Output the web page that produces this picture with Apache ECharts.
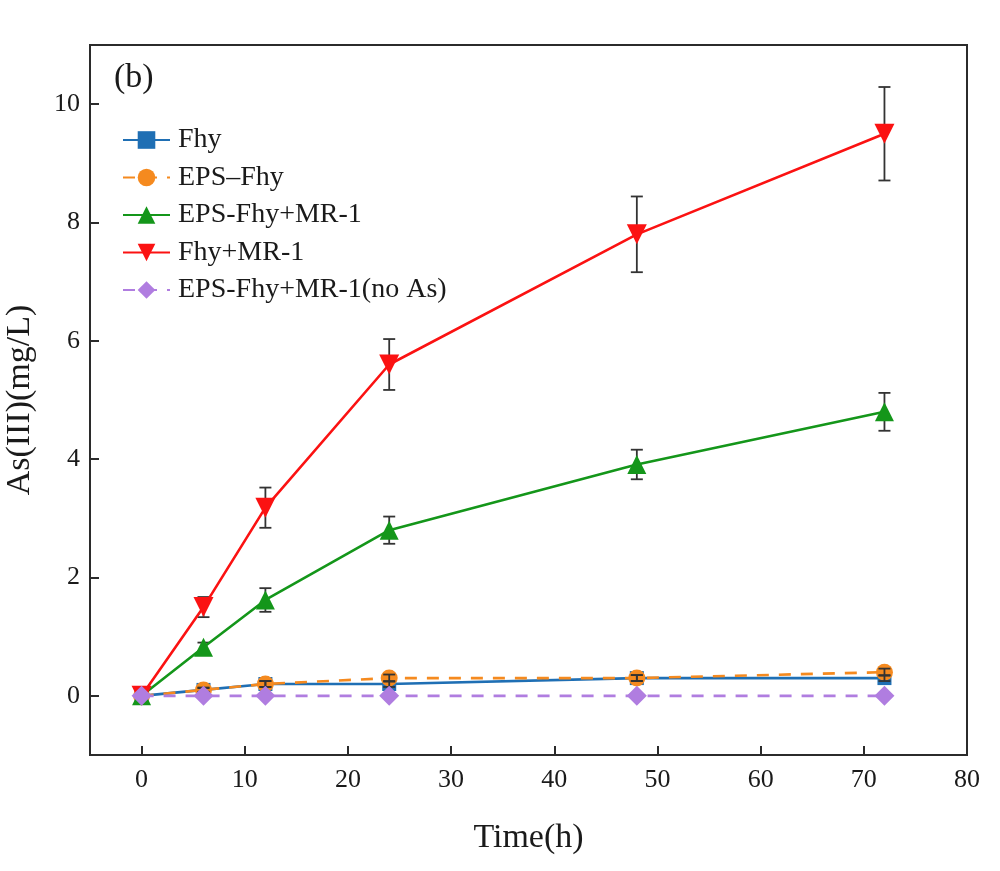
<!DOCTYPE html>
<html>
<head>
<meta charset="utf-8">
<script src="https://cdn.jsdelivr.net/npm/echarts@6/dist/echarts.min.js"></script>
<style>
  html, body { margin: 0; padding: 0; background: #fff; }
  #chart { width: 1000px; height: 871px; }
</style>
</head>
<body>
<div id="chart"></div>
<script>
// sampling times (h)
const times = [0, 6, 12, 24, 48, 72];

// As(III) values (mg/L) and their error bars
const fhy = [0, 0.1, 0.2, 0.2, 0.3, 0.3];
const fhyErr = [0, 0.03, 0.05, 0.05, 0.05, 0.05];
const epsFhy = [0, 0.1, 0.2, 0.3, 0.3, 0.4];
const epsFhyErr = [0, 0.04, 0.05, 0.06, 0.05, 0.06];
const epsFhyMr1 = [0, 0.82, 1.62, 2.8, 3.91, 4.8];
const epsFhyMr1Err = [0, 0.08, 0.2, 0.23, 0.25, 0.32];
const fhyMr1 = [0, 1.5, 3.18, 5.6, 7.8, 9.5];
const fhyMr1Err = [0, 0.17, 0.34, 0.43, 0.64, 0.79];
const noAs = [0, 0, 0, 0, 0, 0];

const xTicks = [0, 10, 20, 30, 40, 50, 60, 70, 80];
const yTicks = [0, 2, 4, 6, 8, 10];

const font = '"Liberation Serif", "DejaVu Serif", serif';
const ink = '#1a1a1a';

function pairs(ys) {
  return times.map((t, i) => [t, ys[i]]);
}

// error bar series: [x, low, high]
function errSeries(name, ys, errs, z) {
  return {
    type: 'custom',
    name: name + ' err',
    z: z,
    silent: true,
    data: times.map((t, i) => [t, ys[i] - errs[i], ys[i] + errs[i]]),
    renderItem: function (params, api) {
      const lo = api.coord([api.value(0), api.value(1)]);
      const hi = api.coord([api.value(0), api.value(2)]);
      const cap = 6;
      const style = { stroke: '#333', lineWidth: 1.8 };
      return {
        type: 'group',
        children: [
          { type: 'line', shape: { x1: lo[0], y1: lo[1], x2: hi[0], y2: hi[1] }, style: style },
          { type: 'line', shape: { x1: lo[0] - cap, y1: lo[1], x2: lo[0] + cap, y2: lo[1] }, style: style },
          { type: 'line', shape: { x1: hi[0] - cap, y1: hi[1], x2: hi[0] + cap, y2: hi[1] }, style: style }
        ]
      };
    }
  };
}

function lineSeries(name, ys, color, symbol, size, dashed, z, rotate) {
  return {
    type: 'line',
    name: name,
    data: pairs(ys),
    z: z,
    symbol: symbol,
    symbolSize: size,
    symbolRotate: rotate || 0,
    showAllSymbol: true,
    color: color,
    itemStyle: { color: color },
    lineStyle: { color: color, width: 2.6, type: dashed ? [12, 10] : 'solid' },
    animation: false
  };
}

const chart = echarts.init(document.getElementById('chart'));

chart.setOption({
  animation: false,
  backgroundColor: '#fff',
  grid: {
    left: 90, right: 33, top: 45, bottom: 116,
    outerBoundsMode: 'none',
    containLabel: false,
    show: true, borderColor: '#2b2b2b', borderWidth: 2
  },
  title: {
    text: '(b)',
    left: 114, top: 61, padding: 0,
    textStyle: { fontFamily: font, fontSize: 34, fontWeight: 'normal', color: ink }
  },
  legend: {
    orient: 'vertical',
    left: 122, top: 126, padding: 0,
    itemWidth: 47, itemHeight: 22,
    itemGap: 9.5,
    textStyle: { fontFamily: font, fontSize: 28, color: ink, padding: [0, 0, 0, 3] },
    data: ['Fhy', 'EPS–Fhy', 'EPS-Fhy+MR-1', 'Fhy+MR-1', 'EPS-Fhy+MR-1(no As)']
  },
  xAxis: {
    type: 'value',
    min: -5, max: 80,
    interval: 5,
    name: 'Time(h)',
    nameLocation: 'middle',
    nameGap: 66,
    nameTextStyle: { fontFamily: font, fontSize: 34, color: ink },
    axisLine: { onZero: false, lineStyle: { color: '#2b2b2b', width: 2 } },
    axisTick: {
      inside: true, length: 9, lineStyle: { color: '#2b2b2b', width: 2 },
      customValues: xTicks.slice(0, -1)
    },
    axisLabel: {
      margin: 12,
      fontFamily: font, fontSize: 26, color: ink,
      customValues: xTicks
    },
    splitLine: { show: false }
  },
  yAxis: {
    type: 'value',
    min: -1, max: 11,
    interval: 1,
    name: 'As(III)(mg/L)',
    nameLocation: 'middle',
    nameGap: 53,
    nameTextStyle: { fontFamily: font, fontSize: 34, color: ink },
    axisLine: { onZero: false, lineStyle: { color: '#2b2b2b', width: 2 } },
    axisTick: {
      inside: true, length: 9, lineStyle: { color: '#2b2b2b', width: 2 },
      customValues: yTicks
    },
    axisLabel: {
      margin: 10,
      fontFamily: font, fontSize: 26, color: ink,
      customValues: yTicks
    },
    splitLine: { show: false }
  },
  series: [
    lineSeries('Fhy', fhy, '#1f6fb4', 'rect', 14, false, 3),
    lineSeries('EPS–Fhy', epsFhy, '#f58a1f', 'circle', 17, true, 4),
    errSeries('EPS-Fhy+MR-1', epsFhyMr1, epsFhyMr1Err, 4),
    lineSeries('EPS-Fhy+MR-1', epsFhyMr1, '#14961a', 'triangle', 19, false, 5),
    errSeries('Fhy+MR-1', fhyMr1, fhyMr1Err, 5),
    lineSeries('Fhy+MR-1', fhyMr1, '#fb1212', 'triangle', 20, false, 6, 180),
    errSeries('Fhy', fhy, fhyErr, 7),
    errSeries('EPS–Fhy', epsFhy, epsFhyErr, 7),
    lineSeries('EPS-Fhy+MR-1(no As)', noAs, '#b07de0', 'diamond', 20, true, 8)
  ]
});
</script>
</body>
</html>
